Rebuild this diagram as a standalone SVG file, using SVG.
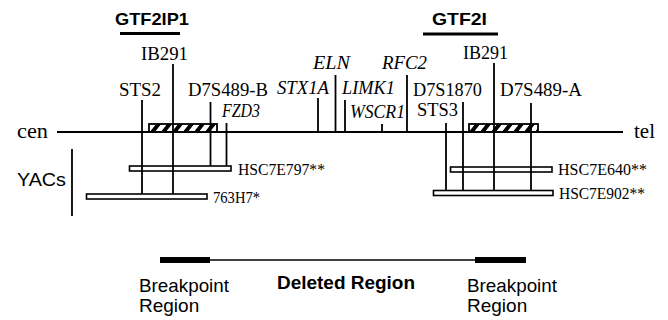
<svg xmlns="http://www.w3.org/2000/svg" width="668" height="320" viewBox="0 0 668 320">
<style>
.s{font-family:"Liberation Serif","Times New Roman",serif;fill:#000}
.m{font-size:18px}
.i{font-size:18px;font-style:italic}
.y{font-size:16px}
.h{font-family:"Liberation Sans",Arial,sans-serif;fill:#000}
.hb{font-weight:bold;font-size:17px}
.hn{font-size:19px}
.ln{stroke:#000;stroke-width:1.8;fill:none}
.bar{stroke:#000;stroke-width:1.6;fill:#fff}
</style>
<defs>
<pattern id="hatch" width="11" height="12" patternUnits="userSpaceOnUse" patternTransform="skewX(-38)">
<rect x="0" y="0" width="5" height="12" fill="#000"/>
</pattern>
</defs>
<rect width="668" height="320" fill="#fff"/>

<g id="chromosome">
<line class="ln" x1="57" y1="132" x2="623" y2="132" stroke-width="2"/>
<text class="s" x="17" y="138" font-size="20" textLength="31" lengthAdjust="spacingAndGlyphs">cen</text>
<text class="s" x="634" y="138" font-size="20" textLength="21" lengthAdjust="spacingAndGlyphs">tel</text>
</g>

<g id="hatched-left">
<rect x="149" y="124" width="68" height="8" fill="url(#hatch)" stroke="#000" stroke-width="1.8"/>
</g>
<g id="hatched-right">
<rect x="469" y="124" width="69" height="8" fill="url(#hatch)" stroke="#000" stroke-width="1.8"/>
</g>

<g id="yacs">
<rect class="bar" x="129.5" y="166" width="101.5" height="5"/>
<rect class="bar" x="86.5" y="194" width="120.5" height="5"/>
<rect class="bar" x="450.5" y="167" width="101.5" height="5"/>
<rect class="bar" x="433.5" y="190.5" width="119.5" height="5"/>
<text class="s y" x="238" y="175" textLength="87" lengthAdjust="spacingAndGlyphs">HSC7E797**</text>
<text class="s y" x="213" y="203" textLength="47" lengthAdjust="spacingAndGlyphs">763H7*</text>
<text class="s y" x="558" y="175" textLength="89" lengthAdjust="spacingAndGlyphs">HSC7E640**</text>
<text class="s y" x="559" y="199" textLength="86" lengthAdjust="spacingAndGlyphs">HSC7E902**</text>
<line class="ln" x1="72" y1="149" x2="72" y2="216" stroke-width="2"/>
<text class="h hn" x="17" y="186" textLength="49" lengthAdjust="spacingAndGlyphs">YACs</text>
</g>

<g id="gtf2ip1">
<text class="h hb" x="115" y="25" textLength="74" lengthAdjust="spacingAndGlyphs">GTF2IP1</text>
<line x1="120" y1="33.5" x2="180" y2="33.5" stroke="#000" stroke-width="3"/>
</g>
<g id="gtf2i">
<text class="h hb" x="432" y="25" textLength="55" lengthAdjust="spacingAndGlyphs">GTF2I</text>
<line x1="423" y1="34" x2="498" y2="34" stroke="#000" stroke-width="3"/>
</g>

<g id="connectors">
<line class="ln" x1="173" y1="64" x2="173" y2="194"/>
<line class="ln" x1="142" y1="100" x2="142" y2="194"/>
<line class="ln" x1="210.5" y1="102" x2="210.5" y2="166"/>
<line class="ln" x1="226.5" y1="123" x2="226.5" y2="166"/>
<line class="ln" x1="318" y1="98" x2="318" y2="132"/>
<line class="ln" x1="335.5" y1="75" x2="335.5" y2="132"/>
<line class="ln" x1="345" y1="100" x2="345" y2="132"/>
<line class="ln" x1="382" y1="124" x2="382" y2="132"/>
<line class="ln" x1="407" y1="75" x2="407" y2="132"/>
<line class="ln" x1="446" y1="123" x2="446" y2="190.5"/>
<line class="ln" x1="463" y1="102" x2="463" y2="190.5"/>
<line class="ln" x1="494" y1="63" x2="494" y2="190.5"/>
<line class="ln" x1="531" y1="103" x2="531" y2="190.5"/>
</g>

<g id="ib291-left"><text class="s m" x="141" y="60" textLength="47" lengthAdjust="spacingAndGlyphs">IB291</text></g>
<g id="sts2"><text class="s m" x="119" y="96" textLength="42" lengthAdjust="spacingAndGlyphs">STS2</text></g>
<g id="d7s489b"><text class="s m" x="188" y="96" textLength="80" lengthAdjust="spacingAndGlyphs">D7S489-B</text></g>
<g id="fzd3"><text class="s i" x="222" y="117" textLength="38" lengthAdjust="spacingAndGlyphs">FZD3</text></g>
<g id="stx1a"><text class="s i" x="277" y="94" textLength="52" lengthAdjust="spacingAndGlyphs">STX1A</text></g>
<g id="eln"><text class="s i" x="313" y="69" textLength="37" lengthAdjust="spacingAndGlyphs">ELN</text></g>
<g id="limk1"><text class="s i" x="342" y="94" textLength="53" lengthAdjust="spacingAndGlyphs">LIMK1</text></g>
<g id="wscr1"><text class="s i" x="350" y="118" textLength="55" lengthAdjust="spacingAndGlyphs">WSCR1</text></g>
<g id="rfc2"><text class="s i" x="382" y="69" textLength="45" lengthAdjust="spacingAndGlyphs">RFC2</text></g>
<g id="d7s1870"><text class="s m" x="413" y="96" textLength="69" lengthAdjust="spacingAndGlyphs">D7S1870</text></g>
<g id="sts3"><text class="s m" x="417" y="116" textLength="41" lengthAdjust="spacingAndGlyphs">STS3</text></g>
<g id="ib291-right"><text class="s m" x="463" y="59" textLength="45" lengthAdjust="spacingAndGlyphs">IB291</text></g>
<g id="d7s489a"><text class="s m" x="500" y="96" textLength="82" lengthAdjust="spacingAndGlyphs">D7S489-A</text></g>

<g id="deleted-region">
<line x1="160" y1="260" x2="526" y2="260" stroke="#000" stroke-width="1.5"/>
<rect x="160" y="257" width="50" height="6" fill="#000"/>
<rect x="475" y="257" width="51" height="6" fill="#000"/>
<text class="h hn" x="139" y="292" textLength="90" lengthAdjust="spacingAndGlyphs">Breakpoint</text>
<text class="h hn" x="139" y="312">Region</text>
<text class="h hn" x="277" y="289" font-weight="bold" textLength="138" lengthAdjust="spacingAndGlyphs">Deleted Region</text>
<text class="h hn" x="467" y="292" textLength="90" lengthAdjust="spacingAndGlyphs">Breakpoint</text>
<text class="h hn" x="467" y="312">Region</text>
</g>
</svg>
